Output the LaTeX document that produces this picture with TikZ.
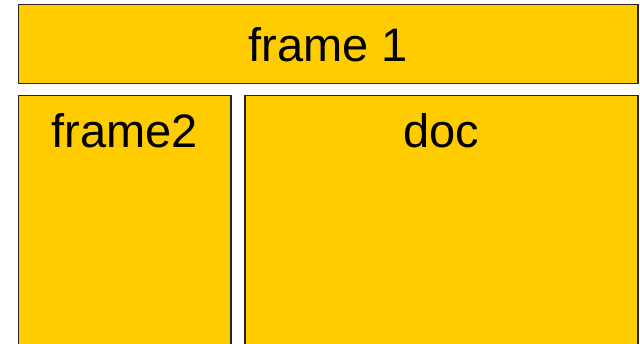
\documentclass[tikz,border=0pt]{standalone}
\usepackage{fontspec}
\setmainfont{Liberation Sans}
\usetikzlibrary{positioning}
\definecolor{framegold}{RGB}{255,204,0}

\begin{document}
\begin{tikzpicture}[x=1pt,y=-1pt,
box/.style={rectangle,draw=black!85,line width=1.5pt,fill=framegold,inner sep=0pt,anchor=north west},
lbl/.style={inner sep=0pt,font=\fontsize{47}{56}\selectfont}]
\useasboundingbox (0,0) rectangle (640,344);
\clip (0,0) rectangle (640,344);

\node[box,minimum width=619.5pt,minimum height=79pt] (frame1) at (17.5,4) {};
\node[box,minimum width=212.5pt,minimum height=270pt] (frame2) at (17.5,95) {};
\node[box,minimum width=393pt,minimum height=270pt] (doc) at (244,95) {};

\node[lbl] (t1) at (frame1.center) {frame 1};
\node[lbl,below=18pt of frame2.north] (t2) {frame2};
\node[lbl,below=18pt of doc.north] (t3) {doc};

\end{tikzpicture}
\end{document}
